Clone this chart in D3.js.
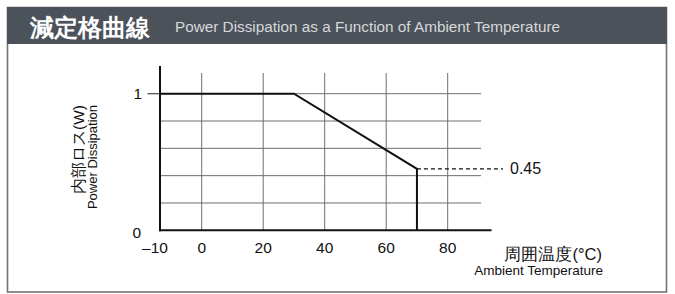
<!DOCTYPE html>
<html>
<head>
<meta charset="utf-8">
<script src="https://cdn.jsdelivr.net/npm/d3@7"></script>
<style>
  body { margin: 0; background: #fff; }
  svg text { font-family: "Liberation Sans", Arial, sans-serif; }
</style>
</head>
<body>
<div id="chart"></div>
<script>
// derating curve: ambient temperature (°C) vs power dissipation (W)
var temps = [-13.5, 30, 70, 70];
var power = [1, 1, 0.45, 0];
var xTicks = [0, 20, 40, 60, 80];
var yTicks = [0, 0.2, 0.4, 0.6, 0.8, 1];
var yLabels = [0, 1];
var ratedPower = 0.45;

var title = "減定格曲線";
var subtitle = "Power Dissipation as a Function of Ambient Temperature";

var W = 675, H = 294;

var svg = d3.select("#chart").append("svg")
    .attr("width", W)
    .attr("height", H);

// frame + header
svg.append("rect")
    .attr("x", 7.5).attr("y", 7.5)
    .attr("width", 659).attr("height", 284.5)
    .attr("fill", "#fff")
    .attr("stroke", "#6f737a")
    .attr("stroke-width", 1.6);

svg.append("rect")
    .attr("x", 7).attr("y", 7)
    .attr("width", 660).attr("height", 37)
    .attr("fill", "#4b5259");

svg.append("text")
    .attr("x", 30).attr("y", 36)
    .attr("font-family", "'Noto Sans CJK JP', sans-serif")
    .attr("font-weight", "bold")
    .attr("font-size", 23.5)
    .attr("fill", "#fff")
    .text(title);

svg.append("text")
    .attr("x", 175).attr("y", 32)
    .attr("font-size", 15.5)
    .attr("fill", "#d6d9dc")
    .attr("textLength", 385)
    .attr("lengthAdjust", "spacingAndGlyphs")
    .text(subtitle);

// scales
var x = d3.scaleLinear().domain([0, 80]).range([201.7, 447.7]);
var y = d3.scaleLinear().domain([0, 1]).range([230.3, 93.7]);
var x0 = 160, xEnd = 491.5, gridRight = 481, gridTop = 73, axisTop = 66;

var plot = svg.append("g");

// grid
plot.selectAll("line.hgrid").data(yTicks.filter(function(d) { return d > 0; }))
    .enter().append("line")
    .attr("class", "hgrid")
    .attr("x1", x0).attr("x2", gridRight)
    .attr("y1", function(d) { return y(d); })
    .attr("y2", function(d) { return y(d); })
    .attr("stroke", "#6e6e6e").attr("stroke-width", 1);

plot.selectAll("line.vgrid").data(xTicks)
    .enter().append("line")
    .attr("class", "vgrid")
    .attr("x1", function(d) { return x(d); })
    .attr("x2", function(d) { return x(d); })
    .attr("y1", gridTop).attr("y2", y(0))
    .attr("stroke", "#6e6e6e").attr("stroke-width", 1);

// tick at 1
plot.append("line")
    .attr("x1", 147.5).attr("x2", x0)
    .attr("y1", y(1)).attr("y2", y(1))
    .attr("stroke", "#444").attr("stroke-width", 1.2);

// axes
plot.append("line")
    .attr("x1", x0).attr("x2", x0)
    .attr("y1", axisTop).attr("y2", y(0) + 1)
    .attr("stroke", "#111").attr("stroke-width", 2);
plot.append("line")
    .attr("x1", x0 - 1).attr("x2", xEnd)
    .attr("y1", y(0)).attr("y2", y(0))
    .attr("stroke", "#111").attr("stroke-width", 2);

// derating curve
var pts = temps.map(function(t, i) { return [t, power[i]]; });
var line = d3.line()
    .x(function(d) { return d[0] < x.domain()[0] ? x0 : x(d[0]); })
    .y(function(d) { return y(d[1]); });
plot.append("path")
    .datum(pts)
    .attr("d", line)
    .attr("fill", "none")
    .attr("stroke", "#111")
    .attr("stroke-width", 2);

// dashed reference at 0.45
plot.append("line")
    .attr("x1", x(70)).attr("x2", 503)
    .attr("y1", y(ratedPower)).attr("y2", y(ratedPower))
    .attr("stroke", "#111")
    .attr("stroke-width", 1.2)
    .attr("stroke-dasharray", "4,3");
plot.append("text")
    .attr("x", 510).attr("y", y(ratedPower) + 5.5)
    .attr("font-size", 16)
    .attr("fill", "#111")
    .text(ratedPower);

// tick labels
plot.selectAll("text.xt").data(xTicks)
    .enter().append("text")
    .attr("class", "xt")
    .attr("x", function(d) { return x(d); })
    .attr("y", 253)
    .attr("text-anchor", "middle")
    .attr("font-size", 15.5)
    .attr("fill", "#111")
    .text(function(d) { return d; });
plot.append("text")
    .attr("x", 155).attr("y", 253)
    .attr("text-anchor", "middle")
    .attr("font-size", 15.5)
    .attr("fill", "#111")
    .text("\u201310");

plot.selectAll("text.yt").data(yLabels)
    .enter().append("text")
    .attr("class", "yt")
    .attr("x", function(d) { return d === 0 ? 141 : 142; })
    .attr("y", function(d) { return d === 0 ? y(d) + 8 : y(d) + 5; })
    .attr("text-anchor", "end")
    .attr("font-size", 15.5)
    .attr("fill", "#111")
    .text(function(d) { return d; });

// axis titles
var yt = svg.append("g").attr("transform", "translate(84,105) rotate(-90)");
yt.append("text")
    .attr("x", 0).attr("y", 0)
    .attr("text-anchor", "end")
    .attr("font-family", "'Noto Sans CJK JP', sans-serif")
    .attr("font-size", 15.5)
    .attr("fill", "#111")
    .text("内部ロス(W)");
yt.append("text")
    .attr("x", 0).attr("y", 12.5)
    .attr("text-anchor", "end")
    .attr("font-size", 13)
    .attr("fill", "#111")
    .text("Power Dissipation");

svg.append("text")
    .attr("x", 602).attr("y", 260)
    .attr("text-anchor", "end")
    .attr("font-family", "'Noto Sans CJK JP', sans-serif")
    .attr("font-size", 16.5)
    .attr("fill", "#111")
    .text("周囲温度(°C)");
svg.append("text")
    .attr("x", 603).attr("y", 275)
    .attr("text-anchor", "end")
    .attr("font-size", 13.5)
    .attr("fill", "#111")
    .text("Ambient Temperature");
</script>
</body>
</html>
